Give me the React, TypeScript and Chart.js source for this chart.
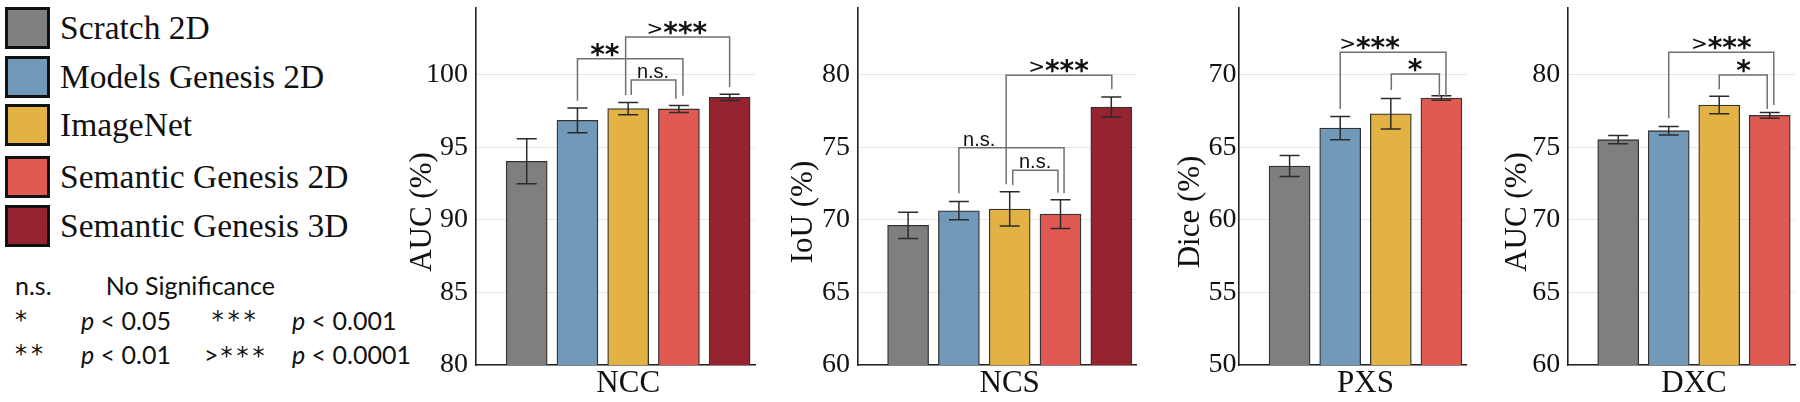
import React, { useEffect, useRef } from 'react';
import { Chart, registerables } from 'chart.js';

Chart.register(...registerables);

// ---------- data ----------
const METHODS = ['Scratch 2D', 'Models Genesis 2D', 'ImageNet', 'Semantic Genesis 2D', 'Semantic Genesis 3D'];
const COLORS = ['#7f7f7f', '#7299b8', '#e3b244', '#e05953', '#952330'];

const NCC_VALUES = [94.05, 96.87, 97.68, 97.66, 98.46];
const NCC_ERRORS = [1.55, 0.85, 0.42, 0.24, 0.22];
const NCS_VALUES = [69.63, 70.64, 70.76, 70.41, 77.79];
const NCS_ERRORS = [0.9, 0.63, 1.18, 0.99, 0.69];
const PXS_VALUES = [63.72, 66.34, 67.33, 68.41];
const PXS_ERRORS = [0.72, 0.8, 1.05, 0.15];
const DXC_VALUES = [75.54, 76.16, 77.93, 77.22];
const DXC_ERRORS = [0.29, 0.29, 0.6, 0.2];

const NCC_TICKS = [80, 85, 90, 95, 100];
const NCS_TICKS = [60, 65, 70, 75, 80];
const PXS_TICKS = [50, 55, 60, 65, 70];
const DXC_TICKS = [60, 65, 70, 75, 80];

// significance brackets: [from bar, to bar, top value, from-leg end, to-leg end, label, label position]
const NCC_BRACKETS: any[] = [
  [2.0, 4.08, 101.12, 98.23, 98.57, '**', 2.54],
  [2.95, 5.0, 102.62, 98.62, 99.17, '>***', 3.96],
  [3.06, 3.94, 99.66, 98.62, 98.37, 'n.s.', 3.49],
];
const NCS_BRACKETS: any[] = [
  [2.0, 4.07, 74.99, 71.84, 71.84, 'n.s.', 2.4],
  [3.06, 3.95, 73.43, 72.41, 71.88, 'n.s.', 3.5],
  [2.93, 5.01, 79.98, 72.46, 79.01, '>***', 3.96],
];
const PXS_BRACKETS: any[] = [
  [2.0, 4.09, 71.57, 67.66, 68.5, '>***', 2.58],
  [3.01, 3.96, 70.07, 68.97, 68.5, '*', 3.48],
];
const DXC_BRACKETS: any[] = [
  [2.0, 4.08, 81.57, 77.01, 77.93, '>***', 3.04],
  [3.0, 3.95, 80.0, 79.01, 77.66, '*', 3.48],
];

const SIG_KEY_LABELS = ['n.s.', '*', '**', '***', '>***'];
const SIG_KEY_TEXT = ['No Significance', '0.05', '0.01', '0.001', '0.0001'];

const SERIF = "'Liberation Serif', 'Times New Roman', serif";
const SANS = "'DejaVu Sans', sans-serif";
const KEY_FONT = "Lato, 'Open Sans', sans-serif";

function drawSigLabel(ctx: CanvasRenderingContext2D, label: string, cx: number, bottom: number) {
  ctx.save();
  ctx.fillStyle = '#111';
  ctx.textAlign = 'left';
  ctx.textBaseline = 'alphabetic';
  if (label === 'n.s.') {
    ctx.font = "20px 'Liberation Sans', Arial, sans-serif";
    const m = ctx.measureText(label);
    ctx.fillText(label, cx - m.width / 2, bottom - m.actualBoundingBoxDescent);
  } else {
    const hasGt = label.startsWith('>');
    const stars = hasGt ? label.slice(1) : label;
    ctx.font = `20px ${SANS}`;
    const mg = ctx.measureText('>');
    const wg = hasGt ? mg.width : 0;
    ctx.font = `bold 28px ${SANS}`;
    const ms = ctx.measureText(stars);
    const total = wg + ms.width;
    let x0 = cx - total / 2;
    if (hasGt) {
      ctx.font = `20px ${SANS}`;
      ctx.fillText('>', x0, bottom - mg.actualBoundingBoxDescent);
      x0 += wg;
    }
    ctx.font = `bold 28px ${SANS}`;
    ctx.fillText(stars, x0, bottom - ms.actualBoundingBoxDescent);
  }
  ctx.restore();
}

type PanelProps = {
  left: number; width: number; axisWidth: number; rightPad: number; tickPad: number; titleX: number;
  values: number[]; errors: number[]; ticks: number[]; yMin: number; yMax: number; xMax: number;
  yTitle: string; xTitle: string; brackets: any[];
};

function Panel(p: PanelProps) {
  const ref = useRef<HTMLCanvasElement>(null);
  useEffect(() => {
    const canvas = ref.current!;
    const sigPlugin = {
      id: 'sig',
      afterDatasetsDraw(chart: any) {
        const { ctx } = chart;
        const x = chart.scales.x;
        const y = chart.scales.y;
        ctx.save();
        // error bars
        ctx.strokeStyle = '#2b2b2b';
        ctx.lineWidth = 1.5;
        p.values.forEach((v, i) => {
          const px = x.getPixelForValue(i + 1);
          const t = y.getPixelForValue(v + p.errors[i]);
          const b = y.getPixelForValue(v - p.errors[i]);
          ctx.beginPath();
          ctx.moveTo(px, t); ctx.lineTo(px, b);
          ctx.moveTo(px - 10, t); ctx.lineTo(px + 10, t);
          ctx.moveTo(px - 10, b); ctx.lineTo(px + 10, b);
          ctx.stroke();
        });
        // brackets
        ctx.strokeStyle = '#707070';
        ctx.lineWidth = 1.5;
        p.brackets.forEach(([x1, x2, top, e1, e2, label, lx]) => {
          const X1 = x.getPixelForValue(x1);
          const X2 = x.getPixelForValue(x2);
          const T = y.getPixelForValue(top);
          ctx.beginPath();
          ctx.moveTo(X1, y.getPixelForValue(e1));
          ctx.lineTo(X1, T);
          ctx.lineTo(X2, T);
          ctx.lineTo(X2, y.getPixelForValue(e2));
          ctx.stroke();
          drawSigLabel(ctx, label, x.getPixelForValue(lx), T - 2);
        });
        // axis titles
        ctx.fillStyle = '#111';
        ctx.font = `31px ${SERIF}`;
        ctx.textAlign = 'center';
        ctx.textBaseline = 'middle';
        const mid = (1 + p.values.length) / 2;
        ctx.fillText(p.xTitle, x.getPixelForValue(mid), 384);
        ctx.translate(p.titleX, 212);
        ctx.rotate(-Math.PI / 2);
        ctx.fillText(p.yTitle, 0, 0);
        ctx.restore();
      },
    };
    const chart = new Chart(canvas, {
      type: 'bar',
      data: {
        datasets: [
          {
            label: p.xTitle,
            data: p.values.map((v, i) => ({ x: i + 1, y: v })),
            backgroundColor: COLORS.slice(0, p.values.length),
            borderColor: '#333333',
            borderWidth: 1.3,
            barThickness: 41,
            borderSkipped: 'start',
          } as any,
        ],
      },
      options: {
        responsive: false,
        animation: false,
        devicePixelRatio: 1,
        layout: { padding: { top: 8, right: p.rightPad, left: 0, bottom: 0 } },
        plugins: { legend: { display: false }, tooltip: { enabled: false } },
        scales: {
          x: {
            type: 'linear',
            min: 0,
            max: p.xMax,
            offset: false,
            ticks: { display: false },
            grid: { display: false, drawTicks: false },
            border: { display: true, color: '#222', width: 1.6 },
            afterFit: (s: any) => { s.height = 37; s.paddingLeft = 0; s.paddingRight = 0; },
          },
          y: {
            type: 'linear',
            min: p.yMin,
            max: p.yMax,
            ticks: { color: '#111', padding: p.tickPad, includeBounds: false, font: { family: SERIF, size: 28 } },
            afterBuildTicks: (s: any) => { s.ticks = p.ticks.map((v) => ({ value: v })); },
            grid: { color: '#e6e6e6', lineWidth: 1, drawTicks: false },
            border: { display: true, color: '#222', width: 1.6 },
            afterFit: (s: any) => { s.width = p.axisWidth; s.paddingTop = 0; s.paddingBottom = 0; },
          },
        },
      } as any,
      plugins: [sigPlugin],
    });
    return () => chart.destroy();
  }, []);
  return (
    <canvas
      ref={ref}
      width={p.width}
      height={402}
      style={{ position: 'absolute', left: p.left, top: 0, width: p.width, height: 402 }}
    />
  );
}

const LEGEND_CENTERS = [27.7, 76.7, 125.3, 177, 226.4];

function KeySymbol({ text, left, baseline }: { text: string; left: number; baseline: number }) {
  const fs = 25;
  if (text === 'n.s.') {
    return (
      <div style={{ position: 'absolute', left, top: baseline - 0.987 * fs, fontFamily: KEY_FONT, fontSize: fs, lineHeight: 1.2, color: '#111' }}>
        n.s.
      </div>
    );
  }
  const hasGt = text.startsWith('>');
  const stars = hasGt ? text.slice(1) : text;
  const sfs = 24;
  return (
    <div style={{ position: 'absolute', left, top: baseline - 0.987 * fs, fontSize: fs, lineHeight: 1.2, color: '#111', whiteSpace: 'nowrap' }}>
      {hasGt ? <span style={{ fontFamily: KEY_FONT, marginRight: 2 }}>&gt;</span> : null}
      <span style={{ fontFamily: SANS, fontSize: sfs, letterSpacing: 4 }}>{stars}</span>
    </div>
  );
}

function Legend() {
  const fs = 33.5;
  const keyFs = 25;
  const keyStyle = (left: number, baseline: number): React.CSSProperties => ({
    position: 'absolute', left, top: baseline - 0.987 * keyFs, fontFamily: KEY_FONT,
    fontSize: keyFs, lineHeight: 1.2, whiteSpace: 'nowrap', color: '#111',
  });
  return (
    <>
      {METHODS.map((m, i) => (
        <React.Fragment key={m}>
          <div
            style={{
              position: 'absolute', left: 5, top: LEGEND_CENTERS[i] - 21, width: 45, height: 42,
              boxSizing: 'border-box', border: '3.5px solid #111', background: COLORS[i],
            }}
          />
          <div
            style={{
              position: 'absolute', left: 60, top: LEGEND_CENTERS[i] - 21, height: 42, lineHeight: '42px',
              fontFamily: SERIF, fontSize: fs, whiteSpace: 'nowrap', color: '#111',
            }}
          >
            {m}
          </div>
        </React.Fragment>
      ))}
      <KeySymbol text={SIG_KEY_LABELS[0]} left={15} baseline={295} />
      <div style={keyStyle(105.7, 295)}>{SIG_KEY_TEXT[0]}</div>
      <KeySymbol text={SIG_KEY_LABELS[1]} left={15} baseline={330} />
      <div style={keyStyle(81, 330)}><i>p</i> &lt; {SIG_KEY_TEXT[1]}</div>
      <KeySymbol text={SIG_KEY_LABELS[3]} left={211.7} baseline={330} />
      <div style={keyStyle(292, 330)}><i>p</i> &lt; {SIG_KEY_TEXT[3]}</div>
      <KeySymbol text={SIG_KEY_LABELS[2]} left={15} baseline={363.3} />
      <div style={keyStyle(81, 363.3)}><i>p</i> &lt; {SIG_KEY_TEXT[2]}</div>
      <KeySymbol text={SIG_KEY_LABELS[4]} left={204} baseline={363.3} />
      <div style={keyStyle(292, 363.3)}><i>p</i> &lt; {SIG_KEY_TEXT[4]}</div>
    </>
  );
}

export default function App() {
  return (
    <div style={{ position: 'absolute', left: 0, top: 0, width: 1800, height: 402, background: '#fff', overflow: 'hidden' }}>
      <Legend />
      <Panel left={395} width={365} axisWidth={81} rightPad={5} tickPad={8} titleX={28}
        values={NCC_VALUES} errors={NCC_ERRORS} ticks={NCC_TICKS} yMin={80} yMax={104.62} xMax={5.5}
        yTitle="AUC (%)" xTitle="NCC" brackets={NCC_BRACKETS} />
      <Panel left={780} width={362} axisWidth={77.3} rightPad={5.3} tickPad={7.3} titleX={24}
        values={NCS_VALUES} errors={NCS_ERRORS} ticks={NCS_TICKS} yMin={60} yMax={84.62} xMax={5.5}
        yTitle="IoU (%)" xTitle="NCS" brackets={NCS_BRACKETS} />
      <Panel left={1160} width={312} axisWidth={79} rightPad={5.3} tickPad={2.5} titleX={31}
        values={PXS_VALUES} errors={PXS_ERRORS} ticks={PXS_TICKS} yMin={50} yMax={74.62} xMax={4.5}
        yTitle="Dice (%)" xTitle="PXS" brackets={PXS_BRACKETS} />
      <Panel left={1490} width={310} axisWidth={77.7} rightPad={5} tickPad={7.5} titleX={27.5}
        values={DXC_VALUES} errors={DXC_ERRORS} ticks={DXC_TICKS} yMin={60} yMax={84.62} xMax={4.5}
        yTitle="AUC (%)" xTitle="DXC" brackets={DXC_BRACKETS} />
    </div>
  );
}
